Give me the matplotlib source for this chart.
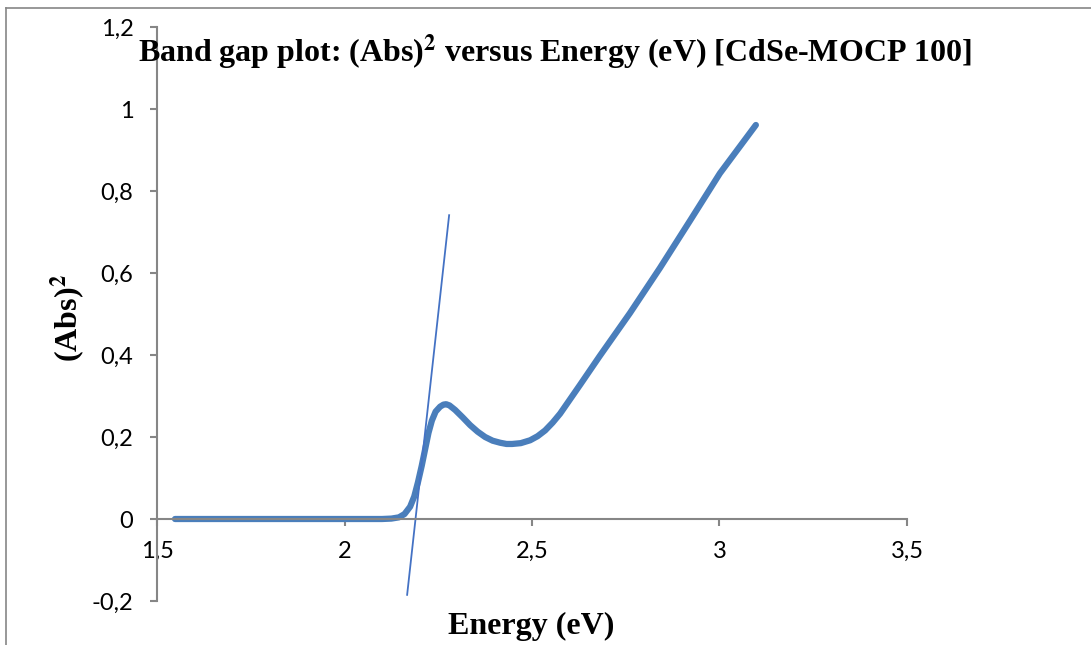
import numpy as np
import matplotlib.pyplot as plt
from matplotlib.lines import Line2D

# Band gap curve
energy = [1.548, 1.70, 1.90, 2.05, 2.10, 2.125, 2.145, 2.160, 2.175, 2.186, 2.196, 2.206,
          2.215, 2.224, 2.233, 2.243, 2.255, 2.264, 2.271, 2.280, 2.295, 2.315, 2.335,
          2.355, 2.375, 2.395, 2.415, 2.432, 2.447, 2.470, 2.495, 2.515, 2.535, 2.555,
          2.575, 2.600, 2.628, 2.681, 2.761, 2.841, 2.921, 3.001, 3.097]
abs_sq = [0.0, 0.0, 0.0, 0.0, 0.0, 0.001, 0.004, 0.012, 0.030, 0.055, 0.090, 0.130,
          0.170, 0.210, 0.240, 0.262, 0.274, 0.279, 0.280, 0.277, 0.266, 0.248, 0.229,
          0.213, 0.200, 0.191, 0.186, 0.183, 0.183, 0.185, 0.192, 0.202, 0.216, 0.235,
          0.257, 0.290, 0.327, 0.398, 0.502, 0.612, 0.727, 0.843, 0.961]

# Tangent line end points
tan_x = [2.167, 2.279]
tan_y = [-0.185, 0.741]

xticks = [1.5, 2, 2.5, 3, 3.5]
xtick_labels = ['1,5', '2', '2,5', '3', '3,5']
yticks = [-0.2, 0, 0.2, 0.4, 0.6, 0.8, 1, 1.2]
ytick_labels = ['-0,2', '0', '0,2', '0,4', '0,6', '0,8', '1', '1,2']

serif = ['Liberation Serif', 'DejaVu Serif']
gray = '#868686'

fig = plt.figure(figsize=(10.91, 6.45), dpi=100)
ax = fig.add_axes([157 / 1091, 44 / 645, 750 / 1091, 574 / 645])

ax.plot(energy, abs_sq, color='#4A7EBB', linewidth=4.5, solid_capstyle='round', solid_joinstyle='round')
ax.plot(tan_x, tan_y, color='#4472C4', linewidth=1.3)

ax.set_xlim(1.5, 3.5)
ax.set_ylim(-0.2, 1.2)

ax.spines['top'].set_visible(False)
ax.spines['right'].set_visible(False)
ax.spines['bottom'].set_position(('data', 0))
for s in ['left', 'bottom']:
    ax.spines[s].set_color(gray)
    ax.spines[s].set_linewidth(1.5)

ax.set_xticks(xticks)
ax.set_xticklabels(xtick_labels)
ax.set_yticks(yticks)
ax.set_yticklabels(ytick_labels)
ax.tick_params(axis='both', direction='out', color=gray, width=1.5, length=5,
               labelsize=17, labelfontfamily='Lato')
ax.tick_params(axis='x', pad=11)
ax.tick_params(axis='y', pad=12)

fig.text(555 / 1091, 1 - 52 / 645, 'Band gap plot: (Abs)$^{\\mathbf{2}}$ versus Energy (eV) [CdSe-MOCP 100]',
         ha='center', va='center', fontsize=23, fontweight='bold', family=serif,
         math_fontfamily='stix')
fig.text(531 / 1091, 1 - 626 / 645, 'Energy (eV)', ha='center', va='center',
         fontsize=23, fontweight='bold', family=serif)
fig.text(68 / 1091, 1 - 318 / 645, '(Abs)$^{\\mathbf{2}}$', ha='center', va='center', rotation=90,
         fontsize=23, fontweight='bold', family=serif, math_fontfamily='stix')

# outer chart border (left and top visible)
fig.add_artist(Line2D([6 / 1091, 6 / 1091], [0, 1 - 8 / 645], transform=fig.transFigure,
                      color=gray, linewidth=1.2))
fig.add_artist(Line2D([6 / 1091, 1], [1 - 8 / 645, 1 - 8 / 645], transform=fig.transFigure,
                      color=gray, linewidth=1.2))

fig.savefig('out.png', dpi=100)
